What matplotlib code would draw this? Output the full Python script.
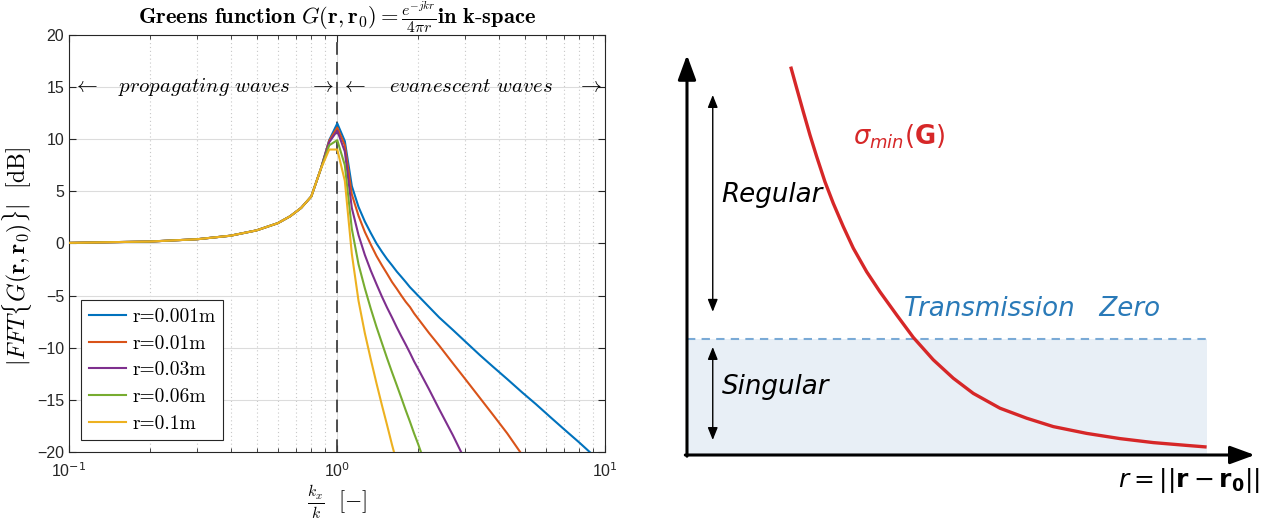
import numpy as np
import matplotlib.pyplot as plt

plt.rcParams['mathtext.fontset'] = 'cm'
plt.rcParams['font.family'] = ['Liberation Sans', 'DejaVu Sans']

# ---- k-space spectrum of the Green's function (dB) ----
# shared propagating part (kx/k < 1)
kx_prop = [0.1, 0.2, 0.3, 0.4, 0.5, 0.6, 0.667, 0.733, 0.8, 0.867]
db_prop = [0.05, 0.18, 0.40, 0.74, 1.25, 1.94, 2.6, 3.4, 4.5, 7.1]

# evanescent part, one set per source distance
kx_r001 = [0.933, 1.0, 1.067, 1.133, 1.2, 1.267, 1.333, 1.4, 1.467, 1.533, 1.6, 1.667, 1.733,
           1.8, 1.867, 1.933, 2.0, 2.2, 2.4, 2.7, 3.0, 3.4, 3.8, 4.3, 4.9, 5.5, 6.2, 7.0, 8.0,
           9.0, 10.0]
db_r001 = [9.9, 11.5, 9.8, 5.5, 3.5, 2.1, 1.0, 0.0, -0.8, -1.5, -2.1, -2.7, -3.2,
           -3.7, -4.2, -4.6, -5.0, -6.1, -7.1, -8.3, -9.4, -10.7, -11.8, -13.0, -14.3, -15.4,
           -16.6, -17.8, -19.1, -20.3, -21.3]

kx_r01 = [0.933, 1.0, 1.067, 1.133, 1.2, 1.267, 1.333, 1.4, 1.467, 1.533, 1.6, 1.667, 1.733,
          1.8, 1.867, 1.933, 2.0, 2.2, 2.4, 2.7, 3.0, 3.4, 3.8, 4.3, 4.9, 5.5]
db_r01 = [9.85, 11.1, 9.4, 4.7, 2.65, 1.1, -0.1, -1.2, -2.1, -2.9, -3.7, -4.35, -5.0,
          -5.6, -6.1, -6.7, -7.2, -8.6, -9.8, -11.5, -13.0, -14.8, -16.4, -18.2, -20.3, -22.2]

kx_r03 = [0.933, 1.0, 1.067, 1.133, 1.2, 1.267, 1.333, 1.4, 1.467, 1.533, 1.6, 1.667, 1.733,
          1.8, 1.867, 1.933, 2.0, 2.2, 2.4, 2.7, 3.0]
db_r03 = [9.7, 10.8, 8.8, 3.4, 0.8, -1.1, -2.6, -3.9, -5.1, -6.15, -7.1, -8.05, -8.9,
          -9.7, -10.5, -11.3, -12.0, -14.0, -15.9, -18.4, -20.8]

kx_r06 = [0.933, 1.0, 1.067, 1.133, 1.2, 1.267, 1.333, 1.4, 1.467, 1.533, 1.6, 1.667, 1.733,
          1.8, 1.867, 1.933, 2.0, 2.2]
db_r06 = [9.4, 9.9, 7.5, 1.4, -2.0, -4.3, -6.25, -8.0, -9.55, -11.0, -12.35, -13.6, -14.8,
          -16.0, -17.1, -18.2, -19.2, -22.2]

kx_r1 = [0.933, 1.0, 1.067, 1.133, 1.2, 1.267, 1.333, 1.4, 1.467, 1.533, 1.6, 1.667]
db_r1 = [9.0, 9.0, 6.0, -1.0, -5.5, -8.6, -11.1, -13.4, -15.5, -17.4, -19.3, -21.0]

labels = ['r=0.001m', 'r=0.01m', 'r=0.03m', 'r=0.06m', 'r=0.1m']
colors = ['#0072BD', '#D95319', '#7E2F8E', '#77AC30', '#EDB120']

# ---- schematic: smallest singular value vs distance ----
r_dist = [1.852, 1.959, 2.077, 2.196, 2.316, 2.464, 2.613, 2.791, 2.970, 3.209, 3.446, 3.745,
          4.041, 4.398, 4.755, 5.113, 5.589, 6.066, 6.541, 7.138, 7.732, 8.327, 8.923, 9.280]
sigma_min = [9.71, 9.17, 8.58, 8.00, 7.46, 6.83, 6.29, 5.71, 5.17, 4.58, 4.08, 3.50,
             2.94, 2.38, 1.92, 1.54, 1.17, 0.92, 0.71, 0.54, 0.41, 0.31, 0.24, 0.20]
tz_level = 2.9
r_end = 9.28

fig = plt.figure(figsize=(12.8, 5.19), dpi=100)

# left panel
ax = fig.add_axes([0.054, 0.129, 0.419, 0.804])
curves = [(kx_r001, db_r001), (kx_r01, db_r01), (kx_r03, db_r03), (kx_r06, db_r06), (kx_r1, db_r1)]
for (kx, db), lab, c in zip(curves, labels, colors):
    ax.plot(kx_prop + kx, db_prop + db, color=c, lw=1.5, label=lab, zorder=3)

ax.set_xscale('log')
ax.set_xlim(0.1, 10)
ax.set_ylim(-20, 20)
ax.set_yticks(np.arange(-20, 21, 5))
ax.set_xticks([0.1, 1, 10])
ax.set_xticklabels(['10$^{-1}$', '10$^{0}$', '10$^{1}$'], math_fontfamily='dejavusans')
ax.tick_params(which='both', direction='in', top=True, right=True, labelsize=11.5, colors='#262626')
ax.tick_params(which='major', length=5, width=0.8)
ax.tick_params(which='minor', length=3, width=0.6)
ax.tick_params(axis='x', pad=7)
ax.grid(True, which='major', axis='y', color='#dcdcdc', lw=0.8)
ax.grid(True, which='minor', axis='x', color='#c8c8c8', lw=0.8, ls=(0, (1, 2.5)))
ax.grid(True, which='major', axis='x', color='#dcdcdc', lw=0.8)
ax.set_axisbelow(True)
for s in ax.spines.values():
    s.set_color('#262626')
    s.set_linewidth(0.8)

ax.axvline(1, color='#404040', lw=1.3, ls=(0, (7, 4)), zorder=2)

ax.set_title(r'$\mathbf{Greens\ function}\ G(\mathbf{r},\mathbf{r_0}) = \frac{e^{-jkr}}{4\pi r}\mathbf{in\ k\text{-}space}$',
             fontsize=16.2, pad=4)
ax.set_ylabel(r'$|FFT\{G(\mathbf{r},\mathbf{r_0})\}|\ \ \mathrm{[dB]}$', fontsize=17)
ax.yaxis.set_label_coords(-0.066, 0.47)
ax.set_xlabel(r'$\frac{k_x}{k}\ \ [\mathrm{-}]$', fontsize=16, labelpad=2)

# region annotations at 15 dB
ax.text(0.103, 15, r'$\leftarrow$', fontsize=15, ha='left', va='center')
ax.text(0.32, 15, r'$\mathit{propagating\ waves}$', fontsize=15, ha='center', va='center')
ax.text(0.975, 15, r'$\rightarrow$', fontsize=15, ha='right', va='center')
ax.text(1.03, 15, r'$\leftarrow$', fontsize=15, ha='left', va='center')
ax.text(3.16, 15, r'$\mathit{evanescent\ waves}$', fontsize=15, ha='center', va='center')
ax.text(9.7, 15, r'$\rightarrow$', fontsize=15, ha='right', va='center')

leg = ax.legend(loc='lower left', prop={'family': 'cmr10', 'size': 14}, fancybox=False, framealpha=1,
                edgecolor='#262626', borderaxespad=0.6, handlelength=1.9,
                labelspacing=0.45, borderpad=0.4, handletextpad=0.35)
leg.get_frame().set_linewidth(0.8)

# right panel
ax2 = fig.add_axes([660 / 1280, 0, 620 / 1280, 479 / 519])
ax2.set_xlim(-0.482, 10.59)
ax2.set_ylim(-1.6, 10.375)
ax2.axis('off')

ax2.fill_between([0, r_end], 0, tz_level, color='#e8eff6', lw=0, zorder=1)
ax2.plot([0, r_end], [tz_level, tz_level], color='#7aaad6', lw=1.5, ls=(0, (4, 3)), zorder=2)
ax2.plot(r_dist, sigma_min, color='#d62728', lw=2.4, zorder=3, solid_capstyle='butt')

axis_arrow = dict(arrowstyle='-|>,head_length=0.6,head_width=0.22', lw=2.2, color='k',
                  mutation_scale=25, shrinkA=0, shrinkB=0)
ax2.annotate('', xy=(0, 10.0), xytext=(0, -0.03), arrowprops=axis_arrow)
ax2.annotate('', xy=(10.14, 0), xytext=(-0.03, 0), arrowprops=axis_arrow)
span_arrow = dict(arrowstyle='<|-|>,head_length=0.5,head_width=0.2', lw=1, color='k',
                  mutation_scale=15, shrinkA=0, shrinkB=0)
ax2.annotate('', xy=(0.46, 9.0), xytext=(0.46, 3.58), arrowprops=span_arrow)
ax2.annotate('', xy=(0.46, 2.7), xytext=(0.46, 0.375), arrowprops=span_arrow)

ax2.text(0.62, 6.5, 'Regular', fontsize=18.8, style='italic', family='DejaVu Sans', ha='left', va='center')
ax2.text(0.62, 1.7, 'Singular', fontsize=18.8, style='italic', family='DejaVu Sans', ha='left', va='center')
ax2.text(3.88, 3.65, 'Transmission   Zero', fontsize=18.8, style='italic', family='DejaVu Sans',
         color='#2a7ab8', ha='left', va='center')
ax2.text(2.96, 7.95, r'$\sigma_{min}(\mathbf{G})$', fontsize=18.5, color='#d62728', ha='left', va='center',
         math_fontfamily='dejavusans')
ax2.text(10.23, -0.63, r'$r = ||\mathbf{r} - \mathbf{r_0}||$', fontsize=18, ha='right', va='center',
         math_fontfamily='dejavusans')

fig.savefig('out.png', dpi=100)
